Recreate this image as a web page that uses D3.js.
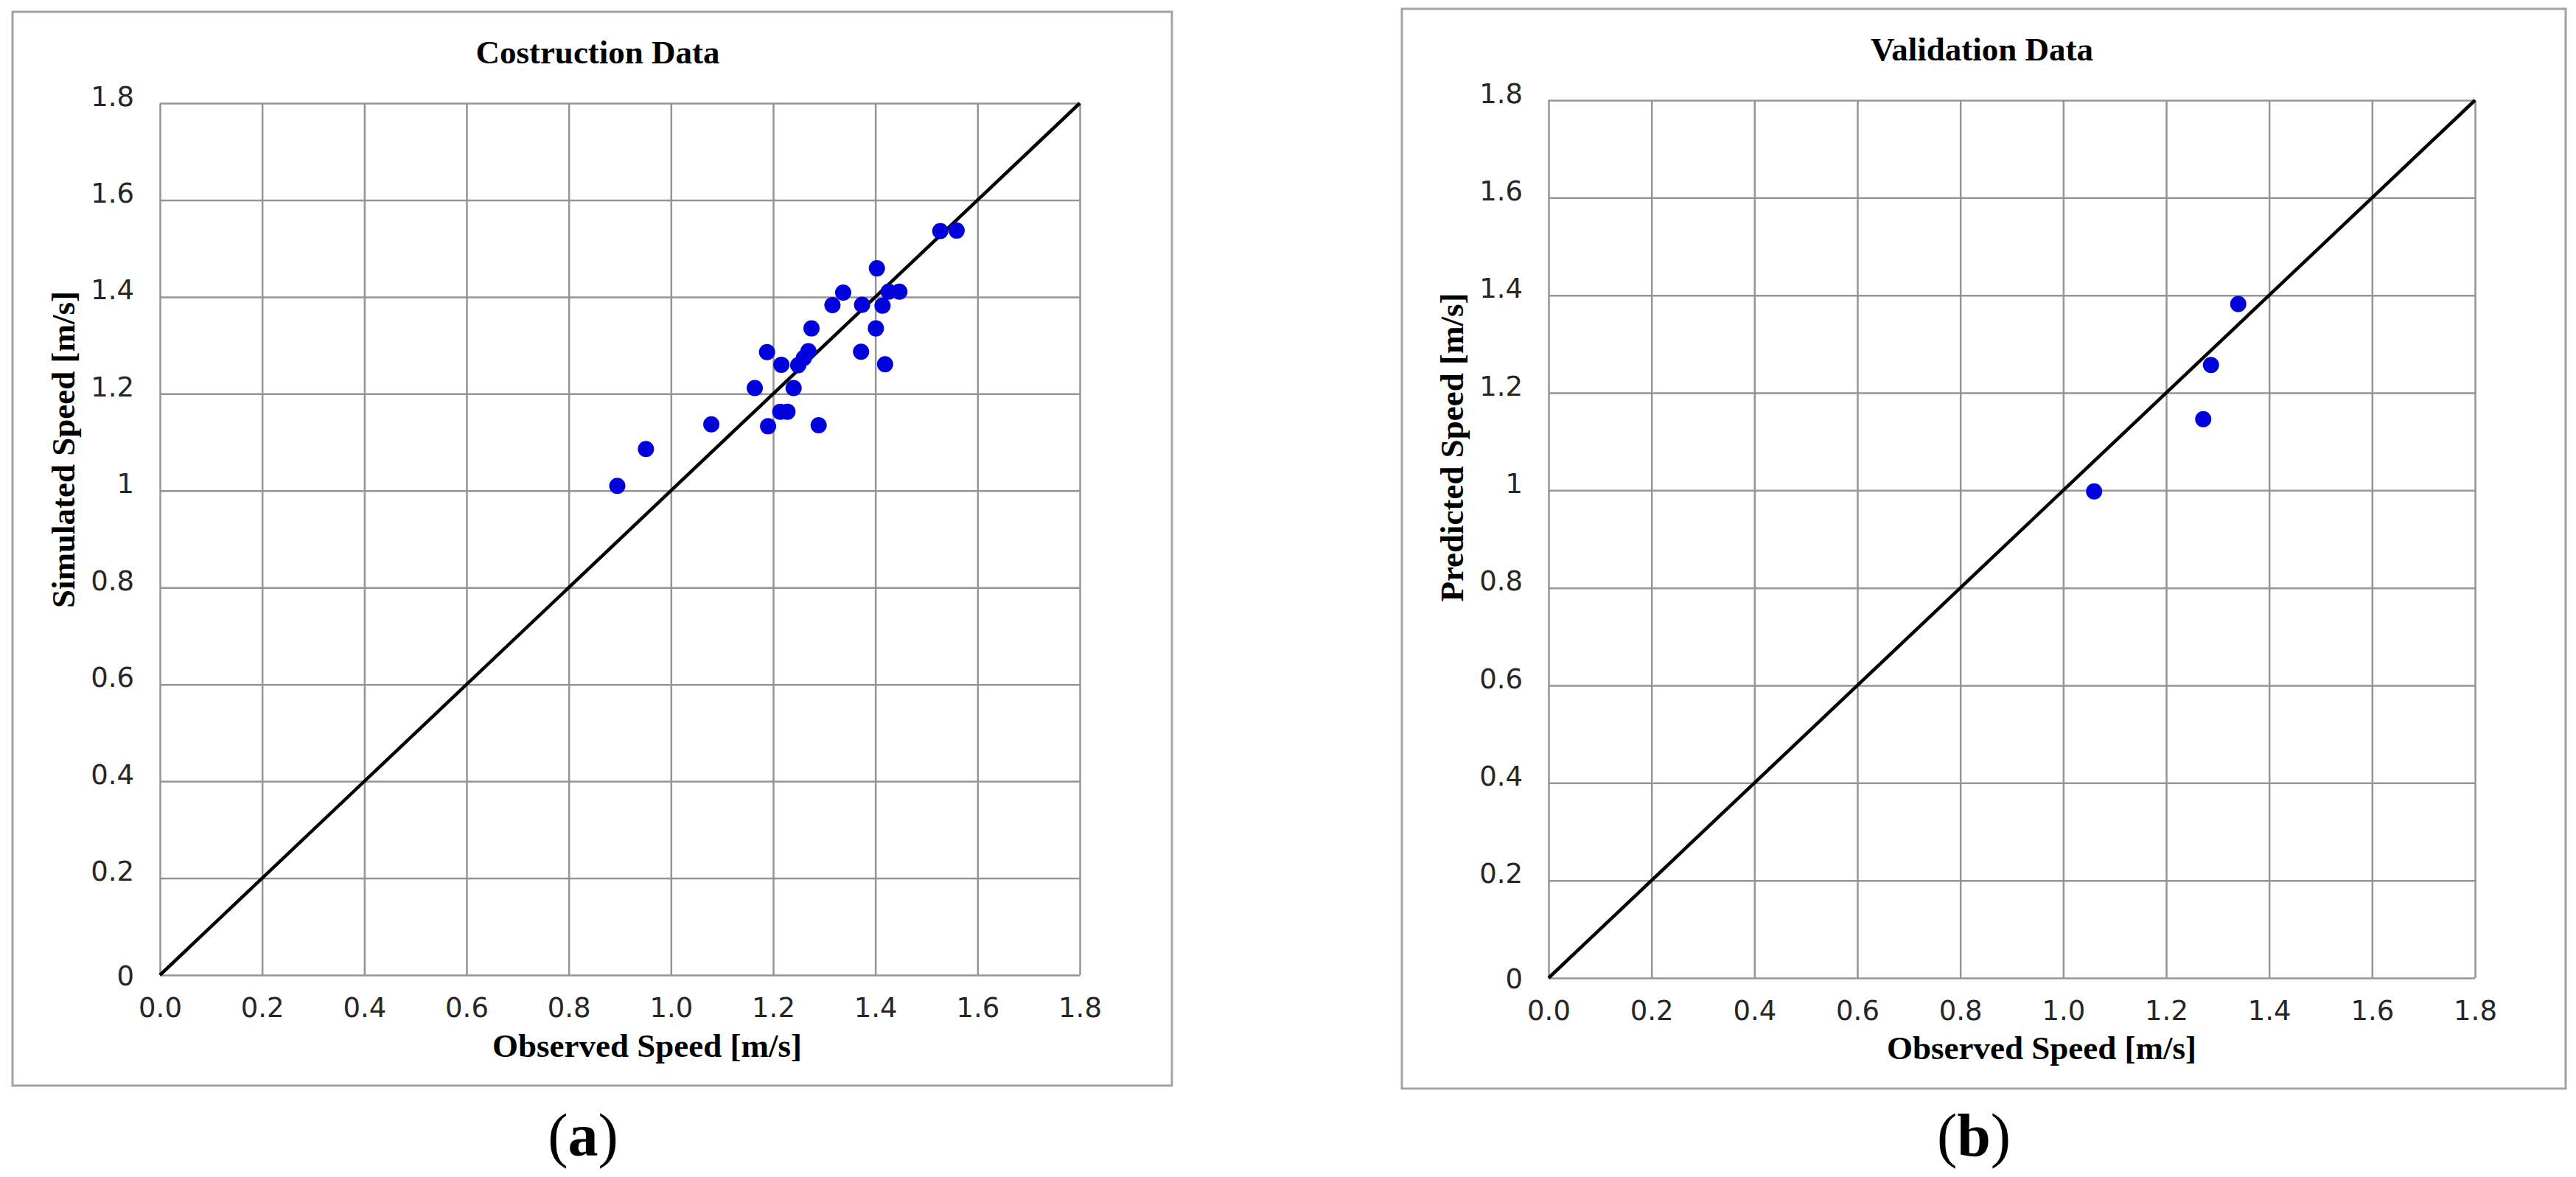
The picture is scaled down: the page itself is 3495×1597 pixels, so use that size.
<!DOCTYPE html>
<html>
<head>
<meta charset="utf-8">
<script src="https://cdn.jsdelivr.net/npm/d3@7"></script>
<style>
  html, body { margin: 0; padding: 0; background: #ffffff; }
  svg { display: block; }
</style>
</head>
<body>
<svg id="chart" width="3495" height="1597"></svg>
<script>
// ---------- DATA ----------
const xTickValues = [0, 0.2, 0.4, 0.6, 0.8, 1.0, 1.2, 1.4, 1.6, 1.8];
const xTickLabels = ["0.0", "0.2", "0.4", "0.6", "0.8", "1.0", "1.2", "1.4", "1.6", "1.8"];
const yTickValues = [0, 0.2, 0.4, 0.6, 0.8, 1.0, 1.2, 1.4, 1.6, 1.8];
const yTickLabels = ["0", "0.2", "0.4", "0.6", "0.8", "1", "1.2", "1.4", "1.6", "1.8"];

const constructionObserved = [0.895, 0.951, 1.079, 1.190, 1.289, 1.214, 1.228, 1.164, 1.240, 1.188,
  1.216, 1.249, 1.260, 1.269, 1.275, 1.316, 1.337, 1.374, 1.372, 1.403,
  1.401, 1.414, 1.419, 1.426, 1.447, 1.527, 1.559];
const constructionSimulated = [1.010, 1.086, 1.137, 1.133, 1.135, 1.163, 1.163, 1.212, 1.212, 1.286,
  1.260, 1.259, 1.274, 1.288, 1.335, 1.383, 1.409, 1.384, 1.287, 1.459,
  1.335, 1.382, 1.261, 1.411, 1.411, 1.536, 1.537];

const validationObserved = [1.060, 1.272, 1.287, 1.340];
const validationPredicted = [0.998, 1.146, 1.257, 1.382];

const diagonal = [0, 1.8];

const panelTitles = ["Costruction Data", "Validation Data"];
const xAxisTitles = ["Observed Speed [m/s]", "Observed Speed [m/s]"];
const yAxisTitles = ["Simulated Speed [m/s]", "Predicted Speed [m/s]"];
const subLetters = ["a", "b"];

// ---------- LAYOUT ----------
const layouts = [
  { frame: [17, 16, 1590, 1473], plot: [217, 140, 1465, 1323],
    titleX: 811, titleY: 86, yLabX: 101, yLabY: 610, xLabX: 878, xLabY: 1434, subX: 791 },
  { frame: [1902, 12, 3481, 1477], plot: [2101, 136, 3358, 1327],
    titleX: 2689, titleY: 82, yLabX: 1985, yLabY: 607, xLabX: 2770, xLabY: 1437, subX: 2678 }
];

const svg = d3.select("#chart");
const serif = "'Liberation Serif', 'Times New Roman', serif";
const sans = "'DejaVu Sans', Verdana, sans-serif";

function drawPanel(i, xs, ys) {
  const L = layouts[i];
  const [px0, py0, px1, py1] = L.plot;
  const x = d3.scaleLinear().domain([0, 1.8]).range([px0, px1]);
  const y = d3.scaleLinear().domain([0, 1.8]).range([py1, py0]);

  // frame
  svg.append("rect")
    .attr("x", L.frame[0]).attr("y", L.frame[1])
    .attr("width", L.frame[2] - L.frame[0]).attr("height", L.frame[3] - L.frame[1])
    .attr("fill", "#ffffff").attr("stroke", "#a3a3a3").attr("stroke-width", 3);

  const g = svg.append("g");

  // vertical gridlines
  const gx = g.append("g")
    .attr("transform", `translate(0,${py1})`)
    .call(d3.axisBottom(x).tickValues(xTickValues).tickSize(-(py1 - py0)).tickFormat(""));
  gx.select(".domain").remove();
  gx.selectAll(".tick line").attr("stroke", "#959595").attr("stroke-width", 2.5);

  // horizontal gridlines
  const gy = g.append("g")
    .attr("transform", `translate(${px0},0)`)
    .call(d3.axisLeft(y).tickValues(yTickValues).tickSize(-(px1 - px0)).tickFormat(""));
  gy.select(".domain").remove();
  gy.selectAll(".tick line").attr("stroke", "#959595").attr("stroke-width", 2.5);

  // x tick labels
  const ax = g.append("g")
    .attr("transform", `translate(0,${py1})`)
    .call(d3.axisBottom(x).tickValues(xTickValues).tickSize(0).tickPadding(0)
      .tickFormat((d, k) => xTickLabels[k]));
  ax.select(".domain").remove();
  ax.selectAll(".tick text")
    .attr("y", 57).attr("dy", null)
    .attr("font-family", sans).attr("font-size", 37).attr("fill", "#262626");

  // y tick labels
  const ay = g.append("g")
    .attr("transform", `translate(${px0},0)`)
    .call(d3.axisLeft(y).tickValues(yTickValues).tickSize(0).tickPadding(0)
      .tickFormat((d, k) => yTickLabels[k]));
  ay.select(".domain").remove();
  ay.selectAll(".tick text")
    .attr("x", -35).attr("dy", null).attr("y", d => (d === 0 ? 0 : -10) + 13)
    .attr("text-anchor", "end")
    .attr("font-family", sans).attr("font-size", 37).attr("fill", "#262626");

  // diagonal 1:1 line
  g.append("path")
    .datum(diagonal)
    .attr("d", d3.line().x(d => x(d)).y(d => y(d)))
    .attr("stroke", "#000000").attr("stroke-width", 4.5).attr("fill", "none");

  // points
  g.append("g").selectAll("circle")
    .data(xs.map((v, k) => [v, ys[k]]))
    .join("circle")
    .attr("cx", d => x(d[0])).attr("cy", d => y(d[1]))
    .attr("r", 11).attr("fill", "#0000dc");

  // titles
  svg.append("text")
    .attr("x", L.titleX).attr("y", L.titleY)
    .attr("text-anchor", "middle")
    .attr("font-family", serif).attr("font-weight", "bold").attr("font-size", 45)
    .text(panelTitles[i]);

  svg.append("text")
    .attr("x", L.xLabX).attr("y", L.xLabY)
    .attr("text-anchor", "middle")
    .attr("font-family", serif).attr("font-weight", "bold").attr("font-size", 45)
    .text(xAxisTitles[i]);

  svg.append("text")
    .attr("transform", `translate(${L.yLabX},${L.yLabY}) rotate(-90)`)
    .attr("text-anchor", "middle")
    .attr("font-family", serif).attr("font-weight", "bold").attr("font-size", 45)
    .text(yAxisTitles[i]);

  // sub-figure label
  const sub = svg.append("text")
    .attr("x", L.subX).attr("y", 1568)
    .attr("text-anchor", "middle")
    .attr("font-family", serif).attr("font-size", 82).attr("fill", "#000");
  sub.append("tspan").text("(");
  sub.append("tspan").attr("font-weight", "bold").text(subLetters[i]);
  sub.append("tspan").text(")");
}

drawPanel(0, constructionObserved, constructionSimulated);
drawPanel(1, validationObserved, validationPredicted);
</script>
</body>
</html>
